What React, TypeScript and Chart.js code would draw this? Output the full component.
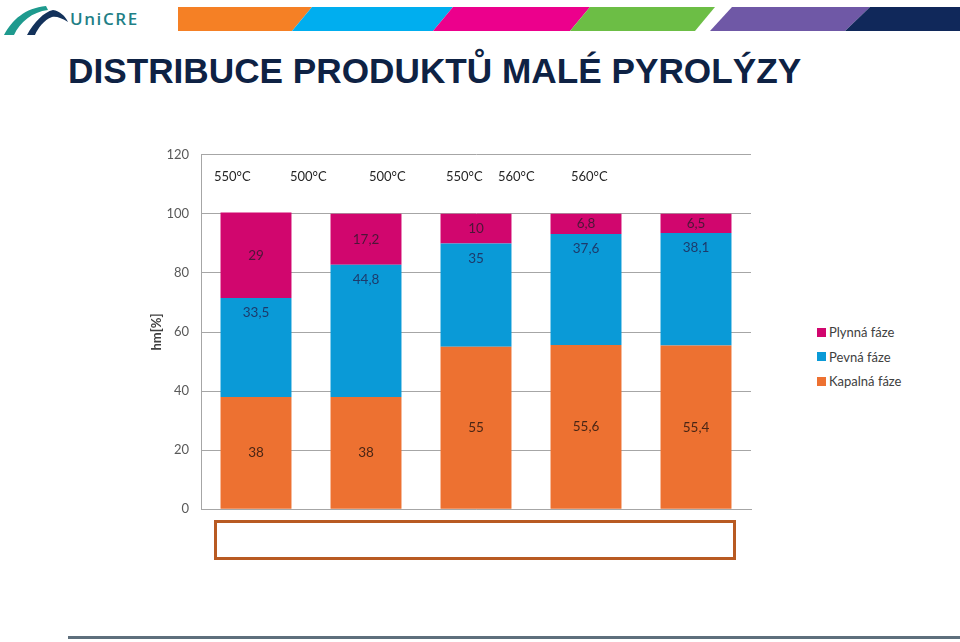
import React, { useEffect, useRef } from 'react';
import { Chart, registerables } from 'chart.js';

Chart.register(...registerables);

// ---- data ----
const categories = ['Vzorek 1', 'Vzorek 2', 'Vzorek 3', 'Vzorek 4', 'Vzorek 5'];
const kapalna = [38, 38, 55, 55.6, 55.4];
const pevna = [33.5, 44.8, 35, 37.6, 38.1];
const plynna = [29, 17.2, 10, 6.8, 6.5];
const seriesNames = ['Kapalná fáze', 'Pevná fáze', 'Plynná fáze'];
const seriesColors = ['#ED7131', '#0A9AD7', '#D1066E'];
const labelColors = ['#4a2615', '#1d3a6b', '#4c1638'];
const yMin = 0;
const yMax = 120;
const yStep = 20;
const yTitle = 'hm[%]';
const title = 'DISTRIBUCE PRODUKTŮ MALÉ PYROLÝZY';
const tempLabels = ['550°C', '500°C', '500°C', '550°C', '560°C', '560°C'];
const tempLabelLeft = [214, 290, 369, 446, 498, 571];

const FONT = 'Lato, "Open Sans", sans-serif';

const labelPlugin = {
  id: 'barLabels',
  afterDatasetsDraw(chart: any) {
    const ctx = chart.ctx;
    ctx.save();
    ctx.font = `13.5px ${FONT}`;
    ctx.textAlign = 'center';
    ctx.textBaseline = 'middle';
    chart.data.datasets.forEach((ds: any, di: number) => {
      const meta = chart.getDatasetMeta(di);
      meta.data.forEach((el: any, i: number) => {
        const p = el.getProps(['x', 'y', 'base'], true);
        const top = Math.min(p.y, p.base);
        const yy = di === 1 ? top + 15 : (p.y + p.base) / 2;
        ctx.fillStyle = labelColors[di];
        ctx.fillText(String(ds.data[i]).replace('.', ','), p.x, yy);
      });
    });
    ctx.restore();
  },
};

function BarChart() {
  const ref = useRef<HTMLCanvasElement | null>(null);
  useEffect(() => {
    if (!ref.current) return;
    const values = [kapalna, pevna, plynna];
    const chart = new Chart(ref.current, {
      type: 'bar',
      data: {
        labels: categories,
        datasets: values.map((v, i) => ({
          label: seriesNames[i],
          data: v,
          backgroundColor: seriesColors[i],
          borderWidth: 0,
          barPercentage: 0.645,
          categoryPercentage: 1,
        })),
      },
      options: {
        responsive: false,
        animation: false,
        layout: { padding: { top: 10, bottom: 5, right: 9, left: 0 } },
        plugins: { legend: { display: false }, tooltip: { enabled: false } },
        scales: {
          x: {
            stacked: true,
            grid: { display: false },
            ticks: { display: false },
            border: { color: '#a6a6a6', width: 1 },
            afterFit: (s: any) => { s.height = 0; },
          },
          y: {
            stacked: true,
            min: yMin,
            max: yMax,
            ticks: { stepSize: yStep, color: '#595959', font: { family: FONT, size: 13 }, padding: 12 },
            grid: { color: '#a6a6a6', drawTicks: false },
            border: { color: '#a6a6a6', width: 1 },
            title: {
              display: true,
              text: yTitle,
              color: '#404040',
              font: { family: FONT, size: 13, weight: 'bold' },
              padding: { top: 4, bottom: 4 },
            },
            afterFit: (s: any) => { s.width = 56; },
          },
        },
      } as any,
      plugins: [labelPlugin],
    });
    return () => chart.destroy();
  }, []);
  return <canvas ref={ref} width={615} height={394} style={{ position: 'absolute', left: 145, top: 135 }} />;
}

function Logo() {
  return (
    <svg width={160} height={40} style={{ position: 'absolute', left: 0, top: 0 }}>
      <path d="M4 35 C 12 20, 25 8, 46 6 L 48 10 C 32 12, 20 22, 14 35 Z" fill="#1e9a8e" />
      <path d="M27 35 C 34 22, 44 12, 53 10 C 60 11, 65 16, 68 22 C 62 18, 56 16, 52 17 C 44 20, 38 28, 35 35 Z" fill="#13325b" />
      <text x={70} y={25} fontFamily='"Open Sans", sans-serif' fontWeight="600" fontSize={17} letterSpacing={1.6} fill="#1f7f86">UniCRE</text>
    </svg>
  );
}

const stripes = [
  { color: '#F58025', pts: '178,7 312,7 292,31 178,31' },
  { color: '#00AEEF', pts: '312,7 453,7 433,31 292,31' },
  { color: '#EC008C', pts: '453,7 590,7 570,31 433,31' },
  { color: '#6CBE45', pts: '590,7 715,7 695,31 570,31' },
  { color: '#6F58A6', pts: '732,7 870,7 845,31 710,31' },
  { color: '#10285A', pts: '870,7 960,7 960,31 845,31' },
];

const legendOrder = [2, 1, 0];

export default function App() {
  return (
    <div style={{ position: 'fixed', left: 0, top: 0, width: 960, height: 642, background: '#fff', overflow: 'hidden' }}>
      <Logo />
      <svg width={960} height={40} style={{ position: 'absolute', left: 0, top: 0 }}>
        {stripes.map((s, i) => (
          <polygon key={i} points={s.pts} fill={s.color} />
        ))}
      </svg>
      <div
        style={{
          position: 'absolute', left: 68, top: 49, fontFamily: '"Liberation Sans", Arial, sans-serif',
          fontWeight: 'bold', fontSize: 35.2, lineHeight: '44px', color: '#0E2244', whiteSpace: 'nowrap',
        }}
      >
        {title}
      </div>
      <BarChart />
      {tempLabels.map((t, i) => (
        <div
          key={i}
          style={{
            position: 'absolute', left: tempLabelLeft[i], top: 168, fontFamily: FONT, fontSize: 13,
            lineHeight: '16px', color: '#262626', whiteSpace: 'nowrap',
          }}
        >
          {t}
        </div>
      ))}
      <div style={{ position: 'absolute', left: 817, top: 320 }}>
        {legendOrder.map((si) => (
          <div key={si} style={{ display: 'flex', alignItems: 'center', height: 24.5, fontFamily: FONT, fontSize: 13, color: '#404040' }}>
            <span style={{ display: 'inline-block', width: 9, height: 9, background: seriesColors[si], marginRight: 3 }} />
            <span>{seriesNames[si]}</span>
          </div>
        ))}
      </div>
      <div
        style={{
          position: 'absolute', left: 214, top: 520, width: 516, height: 34,
          border: '3px solid #B85A22',
        }}
      />
      <div style={{ position: 'absolute', left: 68, top: 636, width: 892, height: 3, background: '#5E6F7C' }} />
    </div>
  );
}
